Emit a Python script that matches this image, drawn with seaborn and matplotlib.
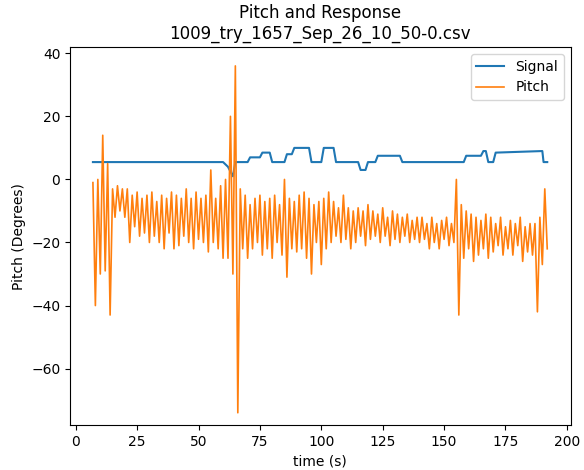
import matplotlib
matplotlib.use("Agg")
import matplotlib.pyplot as plt
import seaborn as sns
import pandas as pd

# Signal (step-like)
sig_t = [7, 60, 62, 64, 65, 70, 71, 75, 76, 79, 80, 85, 86, 88, 89, 95, 96, 100, 101, 105, 106, 115, 116, 118, 119, 122, 123, 132, 133, 158, 159, 165, 166, 167, 168, 170, 171, 190, 190.5, 192]
sig_v = [5.5, 5.5, 4, 1, 5.5, 5.5, 7, 7, 8.5, 8.5, 5.5, 5.5, 8, 8, 10, 10, 5.5, 5.5, 10, 10, 5.5, 5.5, 3, 3, 5.5, 5.5, 7.5, 7.5, 5.5, 5.5, 7.5, 7.5, 9, 9, 5.5, 5.5, 8.5, 9, 5.5, 5.5]

# Pitch: upper / lower swing of oscillation per 2 s bin
bin_t = list(range(7, 192, 2))
upper = [-1, 0, 14, 5, -3, -2, -3, -3, -5, -4, -6, -5, -4, -7, -5, -6, -4, -5, -6, -3, -6, -4, -6, -5, 3, -6, -2, 0, 20, 36,
         -3, -5, -8, -6, -5, -7, -6, -5, -8, 0, -6, -7, -5, -4, -6, -8, -7, -6, -4, -7, -9, -5, -9, -10, -9, -10, -8, -10, -11, -9,
         -12, -10, -11, -12, -11, -13, -12, -12, -14, -12, -14, -13, -12, -14, 0, -8, -10, -11, -12, -13, -11, -12, -14, -12, -15, -13, -14, -12, -15, -14,
         -14, -12, -3]
lower = [-40, -30, -29, -43, -12, -10, -12, -20, -15, -18, -17, -20, -18, -20, -22, -17, -22, -21, -18, -20, -22, -19, -20, -23, -20, -22, -25, -25, -30, -74,
         -22, -25, -22, -20, -24, -22, -25, -20, -24, -31, -22, -23, -22, -25, -30, -20, -27, -22, -20, -18, -20, -19, -22, -20, -18, -21, -19, -18, -20, -18,
         -21, -19, -20, -18, -20, -19, -20, -19, -22, -20, -22, -19, -21, -20, -43, -25, -22, -26, -24, -22, -25, -23, -21, -24, -22, -24, -21, -26, -23, -24,
         -42, -27, -22]

pt, pv = [], []
for t, u, l in zip(bin_t, upper, lower):
    pt += [t, t + 1]
    pv += [u, l]

sig = pd.DataFrame({"t": sig_t, "v": sig_v})
pit = pd.DataFrame({"t": pt, "v": pv})

fig, ax = plt.subplots(figsize=(5.84, 4.7), dpi=100)
fig.subplots_adjust(left=0.12, right=0.977, top=0.9, bottom=0.095)
sns.lineplot(data=sig, x="t", y="v", ax=ax, label="Signal", color="#1f77b4", estimator=None, sort=False)
sns.lineplot(data=pit, x="t", y="v", ax=ax, label="Pitch", color="#ff7f0e", estimator=None, sort=False, linewidth=1.2)
ax.set_xlim(-2.3, 201.5)
ax.set_ylim(-78, 42)
ax.set_xticks(range(0, 201, 25))
ax.set_yticks(range(-60, 41, 20))
ax.set_xlabel("time (s)")
ax.set_ylabel("Pitch (Degrees)")
ax.set_title("Pitch and Response\n1009_try_1657_Sep_26_10_50-0.csv")
ax.legend(loc="upper right")
fig.savefig("out.png", dpi=100)
